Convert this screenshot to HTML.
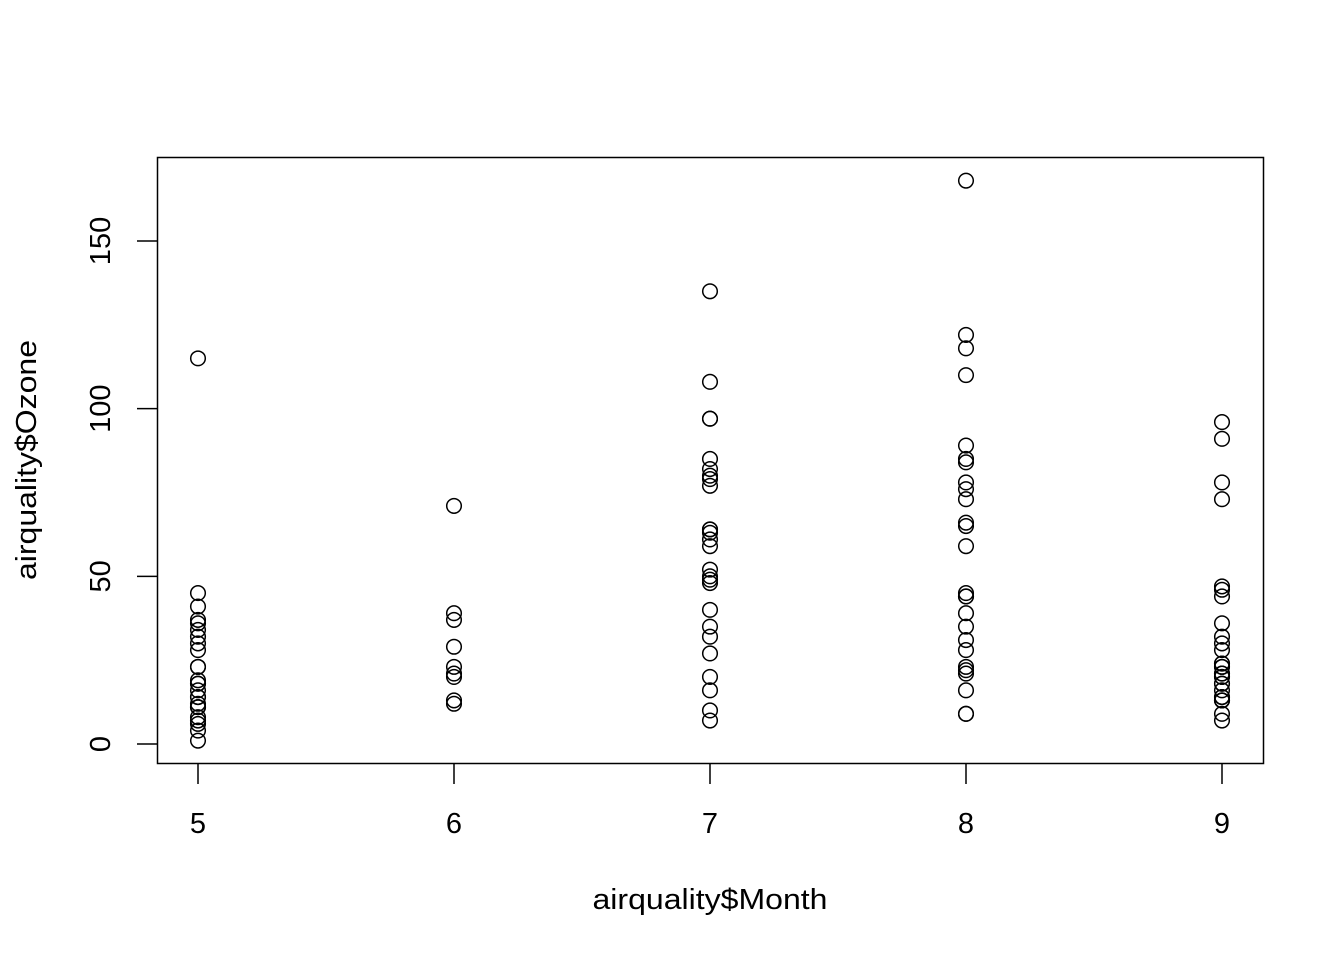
<!DOCTYPE html>
<html><head><meta charset="utf-8">
<style>
html,body{margin:0;padding:0;background:#fff;}
svg text{font-family:"Liberation Sans",Arial,sans-serif;fill:#000;}
</style></head>
<body>
<svg id="chart" width="1344" height="960" viewBox="0 0 1344 960" xmlns="http://www.w3.org/2000/svg">
<rect x="157.5" y="157.5" width="1106" height="606" fill="none" stroke="#000" stroke-width="1.5"/>
<g id="xaxis"></g>
<g id="yaxis"></g>
<g id="points"></g>
<text x="710" y="909" font-size="29" text-anchor="middle" textLength="235" lengthAdjust="spacingAndGlyphs">airquality$Month</text>
<text x="0" y="0" font-size="29" text-anchor="middle" textLength="240" lengthAdjust="spacingAndGlyphs" transform="translate(36,460) rotate(-90)">airquality$Ozone</text>
</svg>
<script>
const months = [5,6,7,8,9];
const ozoneMay = [41,36,12,18,28,23,19,8,7,16,11,14,18,14,34,6,30,11,1,11,4,32,23,45,115,37];
const ozoneJun = [29,71,39,23,21,37,20,12,13];
const ozoneJul = [135,49,32,64,40,77,97,97,85,10,27,7,48,35,61,79,63,16,80,108,20,52,82,50,64,59];
const ozoneAug = [39,9,16,78,35,66,122,89,110,44,28,65,22,59,23,31,44,21,9,45,168,73,76,118,84,85];
const ozoneSep = [96,78,73,91,47,32,20,23,21,24,44,21,28,9,13,46,18,13,24,16,13,23,36,7,14,30,14,18,20];
const xTicks = [5,6,7,8,9];
const yTicks = [0,50,100,150];

const NS="http://www.w3.org/2000/svg";
function xs(v){return 198+(v-5)*256;}
function ys(v){return 744-v*(503/150);}
function mk(tag,attrs,parent){const e=document.createElementNS(NS,tag);for(const k in attrs)e.setAttribute(k,attrs[k]);parent.appendChild(e);return e;}

const xa=document.getElementById('xaxis');
xTicks.forEach(t=>{
  const l=mk('line',{x1:xs(t),x2:xs(t),y1:764,y2:784,stroke:'#000','stroke-width':1.5},xa);
  
  
  const tx=mk('text',{x:xs(t),y:833,'font-size':29,'text-anchor':'middle'},xa);
  tx.textContent=t;
  
  
});
const ya=document.getElementById('yaxis');
yTicks.forEach(t=>{
  const l=mk('line',{x1:137,x2:157,y1:ys(t),y2:ys(t),stroke:'#000','stroke-width':1.5},ya);
  
  
  const tx=mk('text',{x:0,y:0,'font-size':29,'text-anchor':'middle',transform:`translate(110,${ys(t)}) rotate(-90)`},ya);
  tx.textContent=t;
  
  
});
const series=[ozoneMay,ozoneJun,ozoneJul,ozoneAug,ozoneSep];
const pg=document.getElementById('points');
series.forEach((arr,i)=>{
  arr.forEach(v=>{
    const c=mk('circle',{cx:xs(months[i]),cy:ys(v),r:7.3,fill:'none',stroke:'#000','stroke-width':1.5},pg);
    
    
  });
});
</script>
</body></html>
